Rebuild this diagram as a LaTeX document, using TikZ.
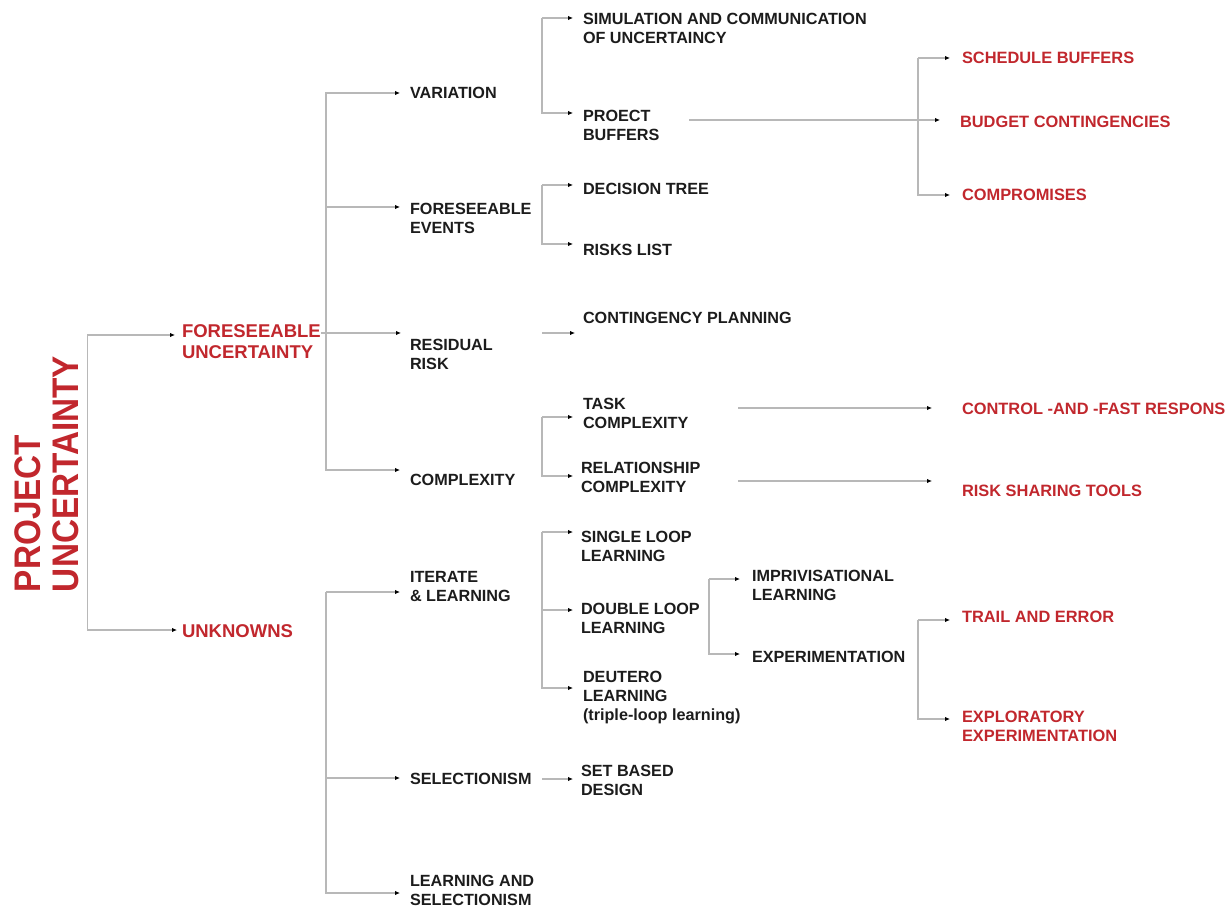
\documentclass[tikz,border=0pt]{standalone}
\usepackage{fontspec}
\setmainfont{Liberation Sans}
\newfontfamily\titlefont[FakeStretch=0.9]{Liberation Sans}
\usetikzlibrary{arrows.meta}
\definecolor{accent}{RGB}{193,39,45}
\definecolor{ink}{RGB}{28,28,28}
\definecolor{wire}{RGB}{184,184,184}

\begin{document}
\begin{tikzpicture}[x=1pt,y=-1pt,
  lbl/.style={anchor=north west, inner sep=0pt, outer sep=0pt, align=left,
    text=ink, font=\fontsize{16.2}{19}\selectfont\bfseries},
  hot/.style={lbl, text=accent, font=\fontsize{16.4}{19}\selectfont\bfseries},
  branch/.style={lbl, text=accent, font=\fontsize{18.5}{21}\selectfont\bfseries},
  wireline/.style={draw=wire, line width=1.1pt},
  feed/.style={wireline, -{Latex[length=5pt,width=4.5pt,color=black]}},
]
\useasboundingbox (0,0) rectangle (1227,909);

% ---- root ----
\node[anchor=north west, rotate=90, inner sep=0pt, outer sep=0pt, align=left,
  text=accent, font=\titlefont\bfseries\fontsize{37}{38}\selectfont]
  (pu) at (15,592) {PROJECT\\UNCERTAINTY};

% ---- first level ----
\node[branch] (fu)  at (182,324.5) {FORESEEABLE\\UNCERTAINTY};
\node[branch] (unk) at (182,624.5) {UNKNOWNS};

% ---- second level ----
\node[lbl] (var) at (410,87)  {VARIATION};
\node[lbl] (fe)  at (410,203) {FORESEEABLE\\EVENTS};
\node[lbl] (rr)  at (410,339) {RESIDUAL\\RISK};
\node[lbl] (cx)  at (410,474) {COMPLEXITY};
\node[lbl] (il)  at (410,571) {ITERATE\\\& LEARNING};
\node[lbl] (sel) at (410,773) {SELECTIONISM};
\node[lbl] (ls)  at (410,875) {LEARNING AND\\SELECTIONISM};

% ---- third level ----
\node[lbl] (sim) at (583,13)  {SIMULATION AND COMMUNICATION\\OF UNCERTAINCY};
\node[lbl] (pb)  at (583,110) {PROECT\\BUFFERS};
\node[lbl] (dt)  at (583,183) {DECISION TREE};
\node[lbl] (rl)  at (583,244) {RISKS LIST};
\node[lbl] (cp)  at (583,312) {CONTINGENCY PLANNING};
\node[lbl] (tc)  at (583,398) {TASK\\COMPLEXITY};
\node[lbl] (rc)  at (581,462) {RELATIONSHIP\\COMPLEXITY};
\node[lbl] (sl)  at (581,531) {SINGLE LOOP\\LEARNING};
\node[lbl] (dl)  at (581,603) {DOUBLE LOOP\\LEARNING};
\node[lbl] (dtl) at (583,671) {DEUTERO\\LEARNING\\(triple-loop learning)};
\node[lbl] (sbd) at (581,765) {SET BASED\\DESIGN};

% ---- fourth level ----
\node[lbl] (imp) at (752,570) {IMPRIVISATIONAL\\LEARNING};
\node[lbl] (exp) at (752,651) {EXPERIMENTATION};

% ---- outcomes ----
\node[hot] (sb)  at (962,52)  {SCHEDULE BUFFERS};
\node[hot] (bc)  at (960,116) {BUDGET CONTINGENCIES};
\node[hot] (cm)  at (962,189) {COMPROMISES};
\node[hot] (cfr) at (962,403) {CONTROL -AND -FAST RESPONS};
\node[hot] (rst) at (962,485) {RISK SHARING TOOLS};
\node[hot] (te)  at (962,611) {TRAIL AND ERROR};
\node[hot] (ee)  at (962,711) {EXPLORATORY\\EXPERIMENTATION};

% ---- arrow entry points beside each label ----
\coordinate (fu-in)  at ([xshift=-7pt,yshift=-10.5pt]fu.north west);
\coordinate (unk-in) at ([xshift=-5pt,yshift=-5.5pt]unk.north west);
\coordinate (var-in) at ([xshift=-10pt,yshift=-6pt]var.north west);
\coordinate (fe-in)  at ([xshift=-10pt,yshift=-4pt]fe.north west);
\coordinate (rr-in)  at ([xshift=-9pt,yshift=6pt]rr.north west);
\coordinate (cx-in)  at ([xshift=-10pt,yshift=4pt]cx.north west);
\coordinate (il-in)  at ([xshift=-10pt,yshift=-21pt]il.north west);
\coordinate (sel-in) at ([xshift=-10pt,yshift=-5pt]sel.north west);
\coordinate (ls-in)  at ([xshift=-10pt,yshift=-18pt]ls.north west);
\coordinate (sim-in) at ([xshift=-10pt,yshift=-5pt]sim.north west);
\coordinate (pb-in)  at ([xshift=-10pt,yshift=-3pt]pb.north west);
\coordinate (dt-in)  at ([xshift=-10pt,yshift=-2pt]dt.north west);
\coordinate (rl-in)  at ([xshift=-10pt,yshift=0pt]rl.north west);
\coordinate (cp-in)  at ([xshift=-8pt,yshift=-21pt]cp.north west);
\coordinate (tc-in)  at ([xshift=-10pt,yshift=-19pt]tc.north west);
\coordinate (rc-in)  at ([xshift=-8pt,yshift=-14pt]rc.north west);
\coordinate (sl-in)  at ([xshift=-8pt,yshift=-1pt]sl.north west);
\coordinate (dl-in)  at ([xshift=-8pt,yshift=-7pt]dl.north west);
\coordinate (dtl-in) at ([xshift=-10pt,yshift=-17pt]dtl.north west);
\coordinate (sbd-in) at ([xshift=-8pt,yshift=-14pt]sbd.north west);
\coordinate (imp-in) at ([xshift=-12pt,yshift=-9pt]imp.north west);
\coordinate (exp-in) at ([xshift=-12pt,yshift=-3pt]exp.north west);
\coordinate (sb-in)  at ([xshift=-12pt,yshift=-6pt]sb.north west);
\coordinate (bc-in)  at ([xshift=-20pt,yshift=-4pt]bc.north west);
\coordinate (cm-in)  at ([xshift=-12pt,yshift=-6pt]cm.north west);
\coordinate (cfr-in) at ([xshift=-30pt,yshift=-5pt]cfr.north west);
\coordinate (rst-in) at ([xshift=-30pt,yshift=4pt]rst.north west);
\coordinate (te-in)  at ([xshift=-12pt,yshift=-9pt]te.north west);
\coordinate (ee-in)  at ([xshift=-12pt,yshift=-8pt]ee.north west);

% ---- spines of the brackets ----
\coordinate (rj)  at ([xshift=8pt]pu.south);
\coordinate (fj)  at (326,333);
\coordinate (s3)  at (542,0);
\coordinate (s4)  at (709,0);
\coordinate (s5)  at (918,0);
\coordinate (pbx) at (689,0);
\coordinate (cxx) at (738,0);

% root split
\draw[feed] (rj) |- (fu-in);
\draw[feed] (rj) |- (unk-in);

% foreseeable uncertainty
\draw[wireline] (fu.north east |- fj) -- (fj);
\draw[feed] (fj) |- (var-in);
\draw[feed] (fj) |- (fe-in);
\draw[feed] (fj) |- (rr-in);
\draw[feed] (fj) |- (cx-in);

% unknowns
\draw[feed] (il-in -| fj) -- (il-in);
\draw[feed] (il-in -| fj) |- (sel-in);
\draw[feed] (il-in -| fj) |- (ls-in);

% third level
\draw[feed] (sim-in -| s3) -- (sim-in);
\draw[feed] (sim-in -| s3) |- (pb-in);
\draw[feed] (dt-in -| s3) -- (dt-in);
\draw[feed] (dt-in -| s3) |- (rl-in);
\draw[feed] (cp-in -| s3) -- (cp-in);
\draw[feed] (tc-in -| s3) -- (tc-in);
\draw[feed] (tc-in -| s3) |- (rc-in);
\draw[feed] (sl-in -| s3) -- (sl-in);
\draw[feed] (sl-in -| s3) |- (dl-in);
\draw[feed] (sl-in -| s3) |- (dtl-in);
\draw[feed] (sbd-in -| s3) -- (sbd-in);

% double loop learning
\draw[feed] (imp-in -| s4) -- (imp-in);
\draw[feed] (imp-in -| s4) |- (exp-in);

% buffers
\draw[feed] (sb-in -| s5) -- (sb-in);
\draw[feed] (sb-in -| s5) |- (cm-in);
\draw[feed] (bc-in -| pbx) -- (bc-in);

% complexity outcomes
\draw[feed] (cfr-in -| cxx) -- (cfr-in);
\draw[feed] (rst-in -| cxx) -- (rst-in);

% experimentation
\draw[feed] (te-in -| s5) -- (te-in);
\draw[feed] (te-in -| s5) |- (ee-in);
\end{tikzpicture}
\end{document}
